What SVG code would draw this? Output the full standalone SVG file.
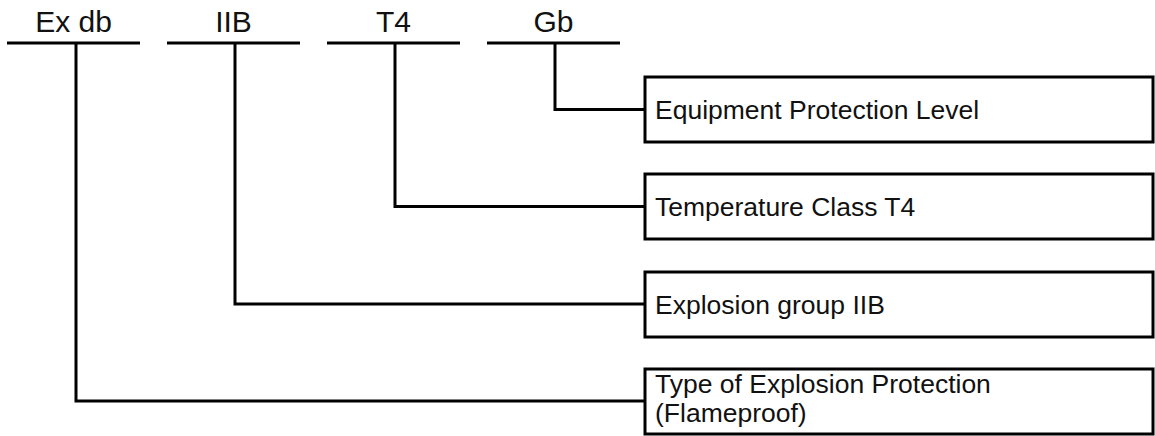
<svg xmlns="http://www.w3.org/2000/svg" width="1155" height="436" viewBox="0 0 1155 436">
  <style>
    .rule { stroke: #000; stroke-width: 3; fill: none; }
    .box { stroke: #000; stroke-width: 3; fill: #fff; }
    .code { font-family: "Liberation Sans", Arial, sans-serif; font-size: 30px; fill: #111; text-anchor: middle; }
    .desc { font-family: "Liberation Sans", Arial, sans-serif; font-size: 26.5px; fill: #111; }
  </style>
  <rect width="1155" height="436" fill="#fff"/>

  <!-- marking code segments -->
  <g id="code-exdb">
    <text class="code" x="73.5" y="32">Ex db</text>
    <line class="rule" x1="7" y1="43" x2="140" y2="43"/>
  </g>
  <g id="code-iib">
    <text class="code" x="233.5" y="32">IIB</text>
    <line class="rule" x1="167" y1="43" x2="300" y2="43"/>
  </g>
  <g id="code-t4">
    <text class="code" x="393.5" y="32">T4</text>
    <line class="rule" x1="327" y1="43" x2="460" y2="43"/>
  </g>
  <g id="code-gb">
    <text class="code" x="553.5" y="32">Gb</text>
    <line class="rule" x1="487" y1="43" x2="620" y2="43"/>
  </g>

  <!-- leader lines from each segment to its description -->
  <g id="connectors">
    <polyline class="rule" points="555,43 555,109.5 645,109.5"/>
    <polyline class="rule" points="395,43 395,206.5 645,206.5"/>
    <polyline class="rule" points="235,43 235,304 645,304"/>
    <polyline class="rule" points="76,43 76,401 645,401"/>
  </g>

  <!-- description boxes -->
  <g id="desc-epl">
    <rect class="box" x="645" y="77" width="508" height="65"/>
    <text class="desc" x="655" y="119">Equipment Protection Level</text>
  </g>
  <g id="desc-temp">
    <rect class="box" x="645" y="174" width="508" height="65"/>
    <text class="desc" x="655" y="216">Temperature Class T4</text>
  </g>
  <g id="desc-group">
    <rect class="box" x="645" y="272" width="508" height="65"/>
    <text class="desc" x="655" y="314">Explosion group IIB</text>
  </g>
  <g id="desc-type">
    <rect class="box" x="645" y="369" width="508" height="65"/>
    <text class="desc" x="655" y="393">Type of Explosion Protection</text>
    <text class="desc" x="655" y="422">(Flameproof)</text>
  </g>
</svg>
